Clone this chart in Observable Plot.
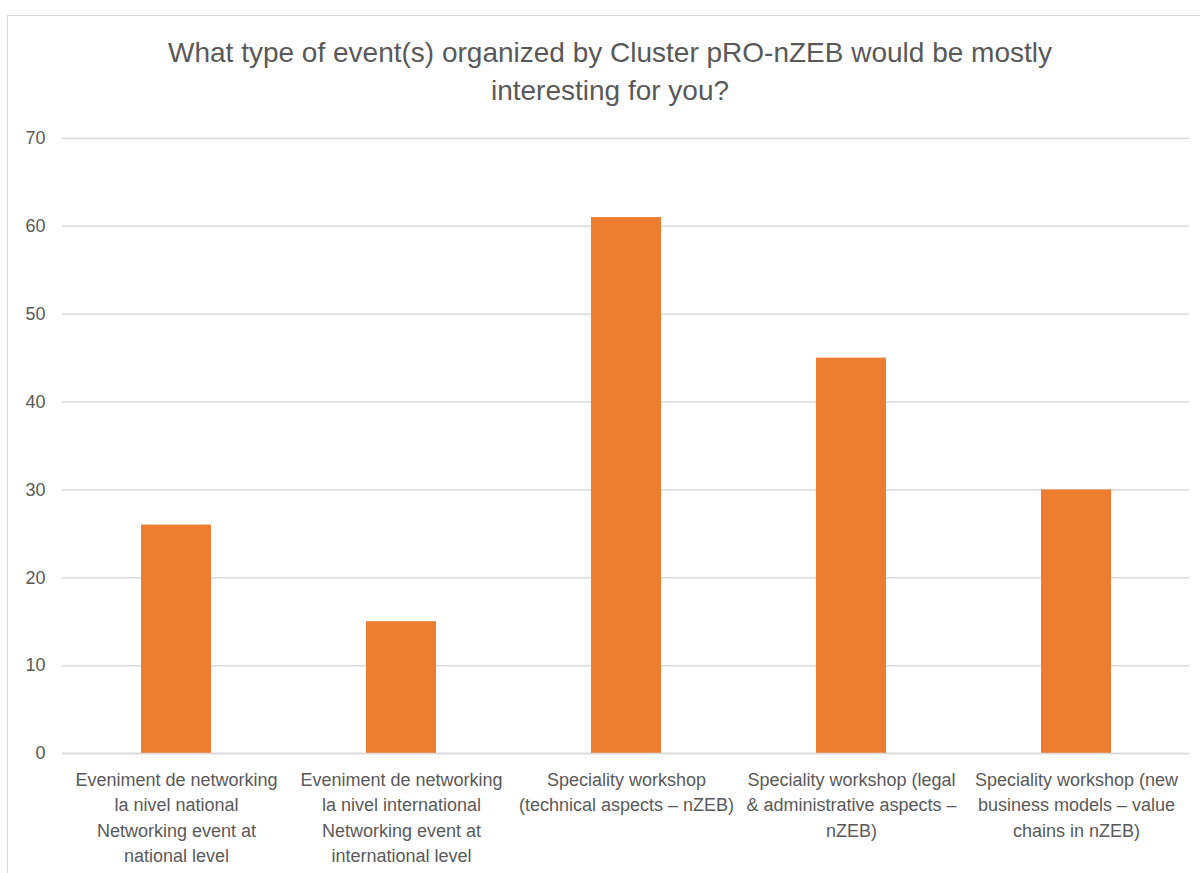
<!DOCTYPE html>
<html>
<head>
<meta charset="utf-8">
<script src="https://cdn.jsdelivr.net/npm/d3@7"></script>
<script src="https://cdn.jsdelivr.net/npm/@observablehq/plot@0.6"></script>
<style>
  html, body { margin: 0; padding: 0; background: #fff; }
  #wrap { position: relative; width: 1200px; height: 873px; overflow: hidden; font-family: "Liberation Sans", Arial, sans-serif; }
  #frame { position: absolute; left: 7px; top: 15px; width: 1220px; height: 900px; border: 1.5px solid #d9d9d9; box-sizing: border-box; }
  #title { position: absolute; left: 0; top: 34px; width: 1220px; text-align: center; font-size: 28px; line-height: 38px; color: #595959; }
  #chart { position: absolute; left: 0; top: 115px; }
</style>
</head>
<body>
<div id="wrap">
  <div id="frame"></div>
  <div id="title">What type of event(s) organized by Cluster pRO-nZEB would be mostly<br>interesting for you?</div>
  <div id="chart"></div>
</div>
<script>
const categories = [
  "Eveniment de networking\nla nivel national\nNetworking event at\nnational level",
  "Eveniment de networking\nla nivel international\nNetworking event at\ninternational level",
  "Speciality workshop\n(technical aspects – nZEB)",
  "Speciality workshop (legal\n& administrative aspects –\nnZEB)",
  "Speciality workshop (new\nbusiness models – value\nchains in nZEB)"
];
const values = [26, 15, 61, 45, 30];
const yTicks = [0, 10, 20, 30, 40, 50, 60, 70];

const data = categories.map((c, i) => ({category: c, value: values[i]}));

const chart = Plot.plot({
  width: 1200,
  height: 758,
  marginTop: 23,
  marginBottom: 120,
  marginLeft: 62,
  marginRight: 11,
  style: {fontFamily: "'Liberation Sans', Arial, sans-serif", fontSize: "18px", color: "#595959", background: "transparent"},
  x: {domain: categories, paddingInner: 0.69, paddingOuter: 0.345, label: null},
  y: {domain: [0, 70], label: null},
  marks: [
    Plot.gridY(yTicks, {stroke: "#d9d9d9", strokeOpacity: 1, strokeWidth: 1.5}),
    Plot.axisY(yTicks, {tickSize: 0, tickPadding: 17, fontSize: 18, fill: "#595959", label: null}),
    Plot.barY(data, {x: "category", y: "value", fill: "#ED7D31"}),
    Plot.axisX({tickSize: 0, tickPadding: 14, fontSize: 18, fill: "#595959", lineHeight: 1.42, label: null, textOverflow: null}),
    Plot.ruleY([0], {stroke: "#d9d9d9", strokeWidth: 1.5})
  ]
});
document.getElementById("chart").appendChild(chart);
</script>
</body>
</html>
